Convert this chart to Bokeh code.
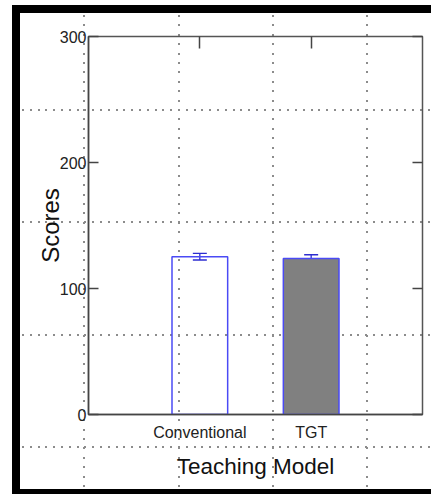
from bokeh.plotting import figure
from bokeh.models import (ColumnDataSource, Range1d, LinearAxis, FixedTicker,
                          Whisker, TeeHead, InlineStyleSheet)
from bokeh.embed import file_html
from bokeh.resources import INLINE

# ---- data ----
categories = ["Conventional", "TGT"]
scores = [125.2, 123.8]
errors = [2.6, 3.0]
y_ticks = [0, 100, 200, 300]

# ---- styles ----
bar_fills = ["white", "#808080"]
bar_fill_alphas = [0.0, 1.0]
FONT = "Liberation Sans"

x_pos = [i + 1 for i in range(len(categories))]
src = ColumnDataSource(dict(
    x=x_pos, top=scores,
    upper=[s + e for s, e in zip(scores, errors)],
    lower=[s - e for s, e in zip(scores, errors)],
    fill=bar_fills, alpha=bar_fill_alphas,
))

W, H = 431, 494

def px(v):
    return f"{v}px"

# page decoration (black frame and dotted background grid) as CSS backgrounds of the figure host
layers = []
for (x, y, w, h) in [(12, 5, 8, H - 5), (12, 5, W - 12, 8), (12, H - 5, W - 12, 5)]:
    layers.append(("linear-gradient(#000,#000)", f"{px(x)} {px(y)}", f"{px(w)} {px(h)}"))
for x in [84, 179, 273, 367]:
    layers.append(("repeating-linear-gradient(to bottom, #8c8c8c 0px, #8c8c8c 2px, transparent 2px, transparent 9.4px)",
                   f"{px(x - 1)} {px(15)}", f"2px {px(H - 20)}"))
for y in [110, 222, 335, 447]:
    layers.append(("repeating-linear-gradient(to right, #8c8c8c 0px, #8c8c8c 2px, transparent 2px, transparent 7.8px)",
                   f"{px(22)} {px(y - 1)}", f"{px(W - 22)} 2px"))
css = (":host { overflow: hidden; background-color: white; "
       f"background-image: {', '.join(l[0] for l in layers)}; "
       f"background-position: {', '.join(l[1] for l in layers)}; "
       f"background-size: {', '.join(l[2] for l in layers)}; "
       "background-repeat: no-repeat; }")

p = figure(width=W, height=H, output_backend="svg", toolbar_location=None,
           x_range=Range1d(0, len(categories) + 1), y_range=Range1d(0, 300),
           min_border_left=88, min_border_right=9, min_border_top=36,
           min_border_bottom=80, stylesheets=[InlineStyleSheet(css=css)])
p.background_fill_alpha = 0
p.border_fill_alpha = 0
p.outline_line_color = "#555555"
p.outline_line_width = 1.5
p.grid.visible = False

# bars
p.vbar(x="x", top="top", width=0.5, bottom=0, source=src,
       fill_color="fill", fill_alpha="alpha",
       line_color="#4a4af5", line_width=1.5)
p.add_layout(Whisker(base="x", upper="upper", lower="lower", source=src,
                     line_color="#2d2dd0", line_width=1.3,
                     upper_head=TeeHead(size=14, line_color="#2d2dd0", line_width=1.3),
                     lower_head=TeeHead(size=14, line_color="#2d2dd0", line_width=1.3)))

# axes
xa = p.xaxis[0]
xa.ticker = FixedTicker(ticks=x_pos)
xa.major_label_overrides = {x: c for x, c in zip(x_pos, categories)}
xa.major_tick_in = 0
xa.major_tick_out = 0
xa.minor_tick_line_color = None
xa.axis_line_color = "#444444"
xa.axis_line_width = 1.5
xa.major_label_text_font = FONT
xa.major_label_text_font_size = "16px"
xa.major_label_text_color = "#222222"
xa.major_label_standoff = 9
xa.axis_label = "Teaching Model"
xa.axis_label_text_font = FONT
xa.axis_label_text_font_size = "22.5px"
xa.axis_label_text_font_style = "normal"
xa.axis_label_text_color = "#111111"
xa.axis_label_standoff = 10

ya = p.yaxis[0]
ya.ticker = FixedTicker(ticks=y_ticks)
ya.major_tick_in = 10
ya.major_tick_out = 0
ya.major_tick_line_color = "#444444"
ya.major_tick_line_width = 1.5
ya.minor_tick_line_color = None
ya.axis_line_color = "#444444"
ya.axis_line_width = 1.5
ya.major_label_text_font = FONT
ya.major_label_text_font_size = "16px"
ya.major_label_text_color = "#222222"
ya.major_label_standoff = 2
ya.axis_label = "Scores"
ya.axis_label_text_font = FONT
ya.axis_label_text_font_size = "24px"
ya.axis_label_text_font_style = "normal"
ya.axis_label_text_color = "#111111"
ya.axis_label_standoff = -7

ra = LinearAxis(ticker=FixedTicker(ticks=y_ticks), major_tick_in=10, major_tick_out=0,
                major_tick_line_color="#444444", major_tick_line_width=1.5,
                minor_tick_line_color=None, axis_line_color=None,
                major_label_overrides={t: "" for t in y_ticks}, major_label_standoff=0)
p.add_layout(ra, "right")
ta = LinearAxis(ticker=FixedTicker(ticks=x_pos), major_tick_in=12, major_tick_out=0,
                major_tick_line_color="#444444", major_tick_line_width=1.5,
                minor_tick_line_color=None, axis_line_color=None,
                major_label_overrides={x: "" for x in x_pos}, major_label_standoff=0)
p.add_layout(ta, "above")

open("out.html", "w").write(file_html(p, INLINE))
